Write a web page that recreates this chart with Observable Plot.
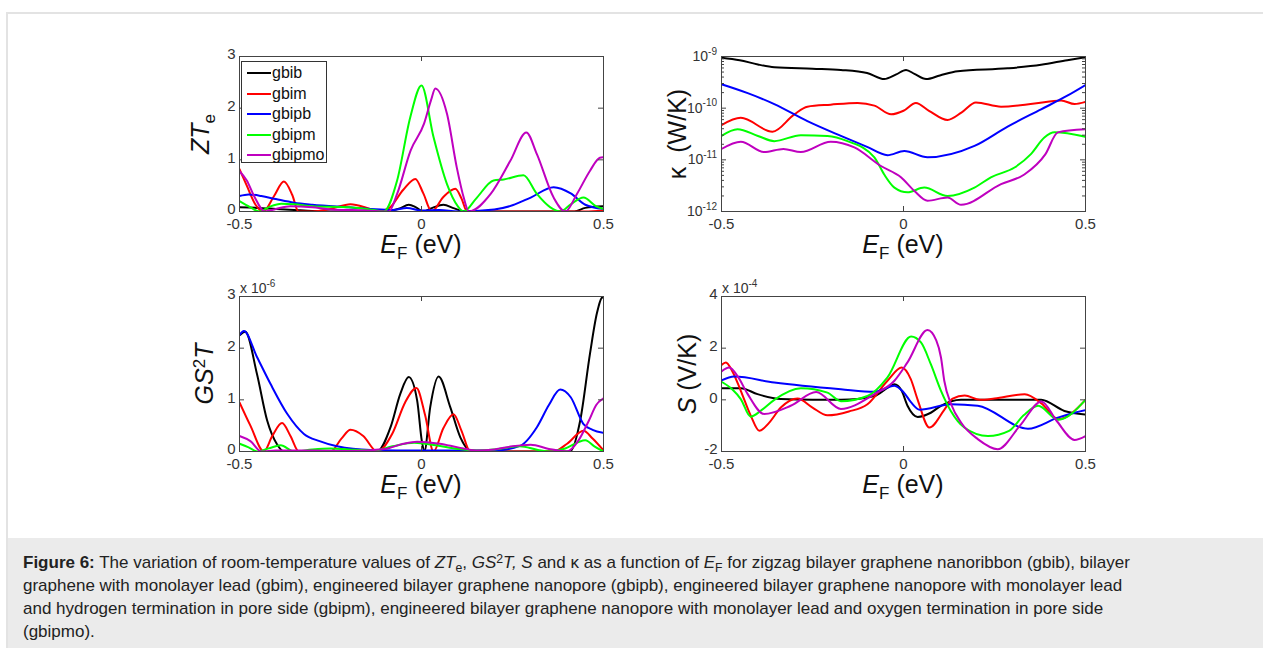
<!DOCTYPE html>
<html><head><meta charset="utf-8">
<script src="https://cdn.jsdelivr.net/npm/d3@7"></script>
<script src="https://cdn.jsdelivr.net/npm/@observablehq/plot@0.6"></script>
<style>
html,body{margin:0;padding:0;background:#fff;}
body{width:1263px;height:648px;overflow:hidden;position:relative;font-family:Arial,"Liberation Sans",sans-serif;}
#border{position:absolute;left:6px;top:12px;width:1300px;height:700px;border:2px solid #e3e3e3;box-sizing:border-box;}
#capbox{position:absolute;left:8px;top:538px;width:1300px;height:120px;background:#ebebeb;}
#caption{position:absolute;left:23px;top:551px;width:1112px;font-size:17px;line-height:23px;color:#222;}
#caption div{white-space:nowrap;height:23px;}
#caption .sb{font-size:0.72em;position:relative;top:0.3em;}
#caption .sp{font-size:0.72em;position:relative;top:-0.45em;}
.panel{position:absolute;}
.xl{position:absolute;font-size:25px;line-height:25px;color:#111;white-space:nowrap;transform:translateX(-50%);}
.yl{position:absolute;font-size:25px;line-height:25px;color:#111;white-space:nowrap;transform:translate(-50%,-50%) rotate(-90deg);}
.xl .sb,.yl .sb{font-size:0.68em;position:relative;top:0.35em;}
.yl .sp{font-size:0.68em;position:relative;top:-0.5em;}
.mult{position:absolute;font-size:14px;line-height:14px;color:#333;white-space:nowrap;}
.mult .sp{font-size:10px;position:relative;top:-0.6em;}
.klab{position:absolute;font-size:14px;line-height:14px;color:#333;white-space:nowrap;transform:translate(-100%,-50%);}
.klab .sp{font-size:10px;position:relative;top:-0.65em;}
#legend{position:absolute;left:241px;top:61px;width:86px;height:102px;border:1px solid #333;background:#fff;box-sizing:border-box;}
.lrow{position:absolute;left:0;height:20px;font-size:16px;line-height:20px;color:#111;}
.lrow span.sw{position:absolute;left:5px;top:9px;width:24px;height:2px;}
.lrow span.tx{position:absolute;left:30px;top:0;}
</style></head><body>
<div id="border"></div>
<div id="capbox"></div>
<div id="caption">
<div><b>Figure 6:</b> The variation of room-temperature values of <i>ZT</i><span class="sb">e</span>, <i>GS</i><span class="sp">2</span><i>T, S</i> and κ as a function of <i>E</i><span class="sb">F</span> for zigzag bilayer graphene nanoribbon (gbib), bilayer</div>
<div>graphene with monolayer lead (gbim), engineered bilayer graphene nanopore (gbipb), engineered bilayer graphene nanopore with monolayer lead</div>
<div>and hydrogen termination in pore side (gbipm), engineered bilayer graphene nanopore with monolayer lead and oxygen termination in pore side</div>
<div>(gbipmo).</div>
</div>
<script>
// ---------- shared ----------
const E_TICKS = [-0.5, 0, 0.5];
const SERIES = ["gbib", "gbim", "gbipb", "gbipm", "gbipmo"];
const COLORS = ["#000000", "#ff0000", "#0000ff", "#00ff00", "#bf00bf"];

// ---------- ZT_e ----------
const ZT_TICKS = [0, 1, 2, 3];
const zt_gbib = [[-0.5,0.08],[-0.45,0.07],[-0.4,0.05],[-0.35,0.03],[-0.3,0.01],[-0.2,0.0],[-0.1,0.0],[-0.06,0.06],[-0.035,0.13],[-0.015,0.08],[0.005,0.0],[0.03,0.07],[0.06,0.13],[0.09,0.06],[0.12,0.0],[0.42,0.0],[0.45,0.07],[0.5,0.1]];
const zt_gbim = [[-0.5,0.82],[-0.48,0.5],[-0.455,0.12],[-0.435,0.0],[-0.405,0.3],[-0.378,0.58],[-0.355,0.32],[-0.338,0.0],[-0.3,0.0],[-0.25,0.05],[-0.195,0.14],[-0.15,0.07],[-0.12,0.0],[-0.09,0.06],[-0.05,0.42],[-0.017,0.63],[0.005,0.35],[0.028,0.0],[0.06,0.28],[0.093,0.44],[0.11,0.25],[0.125,0.0],[0.3,0.0],[0.45,0.0],[0.5,0.02]];
const zt_gbipb = [[-0.5,0.3],[-0.475,0.33],[-0.44,0.3],[-0.4,0.24],[-0.35,0.17],[-0.3,0.13],[-0.2,0.08],[-0.14,0.05],[-0.08,0.03],[-0.04,0.07],[0.0,0.02],[0.05,0.03],[0.1,0.0],[0.2,0.04],[0.25,0.12],[0.3,0.27],[0.363,0.47],[0.41,0.35],[0.45,0.13],[0.5,0.05]];
const zt_gbipm = [[-0.5,0.2],[-0.47,0.08],[-0.445,0.0],[-0.415,0.1],[-0.385,0.15],[-0.35,0.14],[-0.3,0.1],[-0.2,0.08],[-0.15,0.05],[-0.104,0.0],[-0.067,0.6],[-0.031,1.82],[0.0,2.44],[0.033,1.44],[0.07,0.53],[0.1,0.1],[0.116,0.0],[0.15,0.25],[0.198,0.6],[0.226,0.62],[0.28,0.7],[0.317,0.34],[0.354,0.08],[0.381,0.0],[0.41,0.14],[0.445,0.27],[0.48,0.1],[0.5,0.05]];
const zt_gbipmo = [[-0.5,0.78],[-0.48,0.6],[-0.46,0.3],[-0.43,0.0],[-0.4,0.05],[-0.36,0.1],[-0.3,0.08],[-0.25,0.04],[-0.15,0.02],[-0.09,0.0],[-0.067,0.34],[-0.03,1.18],[0.007,1.7],[0.026,2.15],[0.038,2.38],[0.07,1.89],[0.097,0.85],[0.116,0.27],[0.13,0.0],[0.19,0.34],[0.244,0.98],[0.288,1.53],[0.317,1.11],[0.363,0.27],[0.395,0.0],[0.427,0.34],[0.463,0.79],[0.49,1.04],[0.5,1.05]];

// ---------- kappa (W/K) ----------
const K_TICKS = [1e-12, 1e-11, 1e-10, 1e-9];
const K_TICK_EXP = ["-12", "-11", "-10", "-9"];
const K_MINOR = [2e-12,3e-12,4e-12,5e-12,6e-12,7e-12,8e-12,9e-12,2e-11,3e-11,4e-11,5e-11,6e-11,7e-11,8e-11,9e-11,2e-10,3e-10,4e-10,5e-10,6e-10,7e-10,8e-10,9e-10];
const k_gbib = [[-0.5,9.5e-10],[-0.45,8.5e-10],[-0.4,7.0e-10],[-0.355,6.2e-10],[-0.25,5.8e-10],[-0.172,5.5e-10],[-0.1,4.8e-10],[-0.053,3.65e-10],[-0.02,4.5e-10],[0.007,5.5e-10],[0.03,4.6e-10],[0.062,3.65e-10],[0.1,4.3e-10],[0.149,5.2e-10],[0.286,5.9e-10],[0.378,6.9e-10],[0.45,8.5e-10],[0.5,9.7e-10]];
const k_gbim = [[-0.5,4.7e-11],[-0.447,6.5e-11],[-0.36,3.5e-11],[-0.3,7.6e-11],[-0.264,1.07e-10],[-0.2,1.17e-10],[-0.126,1.26e-10],[-0.08,1.12e-10],[-0.034,7.6e-11],[0.0,8.9e-11],[0.034,1.26e-10],[0.07,8.9e-11],[0.121,5.9e-11],[0.16,8.3e-11],[0.199,1.29e-10],[0.268,1.07e-10],[0.36,1.23e-10],[0.433,1.41e-10],[0.47,1.2e-10],[0.5,1.32e-10]];
const k_gbipb = [[-0.5,2.9e-10],[-0.428,1.95e-10],[-0.355,1.2e-10],[-0.264,5.6e-11],[-0.172,2.9e-11],[-0.1,1.78e-11],[-0.044,1.23e-11],[0.002,1.48e-11],[0.066,1.12e-11],[0.195,1.86e-11],[0.286,4.4e-11],[0.378,9.5e-11],[0.45,1.74e-10],[0.5,2.8e-10]];
const k_gbipm = [[-0.5,2.9e-11],[-0.456,3.9e-11],[-0.4,2.9e-11],[-0.355,2.3e-11],[-0.282,3.0e-11],[-0.209,2.9e-11],[-0.154,2.3e-11],[-0.08,1.12e-11],[-0.053,5.2e-12],[-0.025,2.9e-12],[0.011,2.35e-12],[0.057,2.9e-12],[0.121,2.0e-12],[0.195,2.9e-12],[0.24,4.6e-12],[0.305,7.1e-12],[0.35,1.29e-11],[0.387,2.7e-11],[0.415,3.4e-11],[0.5,2.8e-11]];
const k_gbipmo = [[-0.5,1.62e-11],[-0.447,2.24e-11],[-0.383,1.41e-11],[-0.33,1.62e-11],[-0.282,1.41e-11],[-0.2,2.24e-11],[-0.135,1.74e-11],[-0.062,7.6e-12],[-0.007,4.6e-12],[0.03,2.5e-12],[0.066,1.62e-12],[0.121,1.86e-12],[0.158,1.35e-12],[0.268,3.4e-12],[0.332,5.2e-12],[0.39,1.29e-11],[0.424,3.4e-11],[0.5,3.9e-11]];

// ---------- GS^2T (x 1e-6) ----------
const G_TICKS = [0, 1, 2, 3];
const g_gbib = [[-0.5,2.25],[-0.484,2.32],[-0.452,1.5],[-0.424,0.6],[-0.397,0.14],[-0.378,0.0],[-0.122,0.0],[-0.085,0.47],[-0.058,1.12],[-0.035,1.44],[-0.012,0.99],[0.001,0.2],[0.008,0.0],[0.024,0.86],[0.047,1.45],[0.079,0.86],[0.107,0.27],[0.139,0.0],[0.408,0.0],[0.436,0.6],[0.463,1.9],[0.482,2.68],[0.498,2.99],[0.5,2.97]];
const g_gbim = [[-0.5,0.95],[-0.47,0.5],[-0.433,0.0],[-0.41,0.3],[-0.383,0.55],[-0.36,0.3],[-0.337,0.0],[-0.25,0.0],[-0.22,0.25],[-0.195,0.42],[-0.16,0.3],[-0.122,0.0],[-0.08,0.35],[-0.045,0.95],[-0.014,1.23],[0.01,0.7],[0.033,0.0],[0.06,0.45],[0.088,0.72],[0.11,0.4],[0.134,0.0],[0.363,0.0],[0.4,0.15],[0.445,0.4],[0.47,0.25],[0.5,0.02]];
const g_gbipb = [[-0.5,2.25],[-0.488,2.33],[-0.452,1.83],[-0.415,1.31],[-0.369,0.73],[-0.323,0.34],[-0.28,0.2],[-0.232,0.1],[-0.14,0.03],[0.0,0.02],[0.2,0.02],[0.271,0.11],[0.317,0.47],[0.35,0.9],[0.381,1.2],[0.41,1.05],[0.445,0.53],[0.47,0.42],[0.5,0.36]];
const g_gbipm = [[-0.5,0.15],[-0.475,0.08],[-0.45,0.0],[-0.42,0.06],[-0.387,0.12],[-0.35,0.0],[-0.3,0.04],[-0.25,0.06],[-0.2,0.04],[-0.13,0.02],[-0.08,0.1],[-0.02,0.17],[0.04,0.12],[0.1,0.05],[0.15,0.02],[0.2,0.04],[0.27,0.1],[0.32,0.03],[0.35,0.0],[0.39,0.05],[0.45,0.22],[0.475,0.1],[0.5,0.0]];
const g_gbipmo = [[-0.5,0.3],[-0.47,0.2],[-0.44,0.0],[-0.4,0.02],[-0.3,0.02],[-0.2,0.01],[-0.1,0.05],[-0.05,0.15],[-0.012,0.19],[0.05,0.15],[0.1,0.08],[0.15,0.02],[0.2,0.04],[0.25,0.1],[0.3,0.13],[0.35,0.05],[0.4,0.0],[0.43,0.2],[0.46,0.6],[0.48,0.9],[0.5,1.03]];

// ---------- S (V/K, x 1e-4) ----------
const S_TICKS = [-2, 0, 2, 4];
const s_gbib = [[-0.5,0.45],[-0.447,0.45],[-0.401,0.22],[-0.337,0.03],[-0.25,0.0],[-0.172,0.0],[-0.08,0.15],[-0.04,0.5],[-0.025,0.6],[-0.005,0.35],[0.011,-0.23],[0.039,-0.66],[0.075,-0.5],[0.103,-0.23],[0.158,0.0],[0.378,0.0],[0.442,-0.43],[0.5,-0.57]];
const s_gbim = [[-0.5,1.35],[-0.488,1.45],[-0.47,1.1],[-0.447,0.35],[-0.42,-0.6],[-0.396,-1.2],[-0.37,-0.9],[-0.337,-0.3],[-0.291,0.05],[-0.25,-0.3],[-0.209,-0.6],[-0.15,-0.45],[-0.099,-0.17],[-0.044,0.74],[-0.005,1.25],[0.02,0.8],[0.039,0.0],[0.071,-1.07],[0.112,-0.39],[0.135,0.05],[0.168,0.17],[0.21,0.0],[0.25,0.05],[0.333,0.22],[0.38,-0.15],[0.425,-0.75],[0.5,0.0]];
const s_gbipb = [[-0.5,0.75],[-0.465,0.9],[-0.355,0.67],[-0.172,0.41],[-0.08,0.31],[-0.025,0.55],[0.0,0.3],[0.021,-0.1],[0.044,-0.38],[0.131,-0.17],[0.204,-0.23],[0.342,-1.12],[0.424,-0.69],[0.47,-0.5],[0.5,-0.4]];
const s_gbipm = [[-0.5,0.7],[-0.47,0.4],[-0.447,0.03],[-0.42,-0.65],[-0.39,-0.4],[-0.355,0.0],[-0.282,0.45],[-0.209,0.28],[-0.172,-0.05],[-0.099,0.15],[-0.044,0.87],[0.021,2.45],[0.048,2.22],[0.075,1.38],[0.103,0.35],[0.13,-0.43],[0.167,-1.07],[0.232,-1.4],[0.29,-1.2],[0.33,-0.6],[0.37,-0.23],[0.425,-0.77],[0.5,0.0]];
const s_gbipmo = [[-0.5,1.1],[-0.479,1.25],[-0.455,0.9],[-0.428,0.22],[-0.383,-0.55],[-0.31,-0.23],[-0.24,0.3],[-0.172,-0.35],[-0.08,0.22],[-0.025,0.74],[0.011,1.45],[0.066,2.7],[0.09,2.3],[0.103,1.64],[0.112,0.74],[0.131,-0.17],[0.158,-0.88],[0.204,-1.52],[0.259,-1.91],[0.32,-1.0],[0.379,-0.06],[0.42,-0.8],[0.47,-1.55],[0.5,-1.4]];

// ---------- drawing ----------
const FW = 364, FH = 155, ML = 60, MR = 20, MT = 20, MB = 30;
const AXC = "#444";

function panel(cfg) {
  const marks = [];
  cfg.series.forEach((s, i) => marks.push(Plot.line(s, {
    x: d => d[0], y: d => d[1], stroke: COLORS[i], strokeWidth: 2,
    curve: "monotone-x", clip: true
  })));
  marks.push(Plot.frame({stroke: AXC, strokeWidth: 1}));
  const tl = 5;
  marks.push(Plot.tickX(E_TICKS, {x: d => d, insetTop: FH - tl, stroke: AXC}));
  marks.push(Plot.tickX(E_TICKS, {x: d => d, insetBottom: FH - tl, stroke: AXC}));
  marks.push(Plot.tickY(cfg.yTicks, {y: d => d, insetRight: FW - tl, stroke: AXC}));
  marks.push(Plot.tickY(cfg.yTicks, {y: d => d, insetLeft: FW - tl, stroke: AXC}));
  if (cfg.minor) {
    marks.push(Plot.tickY(cfg.minor, {y: d => d, insetRight: FW - 3, stroke: AXC}));
    marks.push(Plot.tickY(cfg.minor, {y: d => d, insetLeft: FW - 3, stroke: AXC}));
  }
  marks.push(Plot.axisX(E_TICKS, {tickSize: 0, tickPadding: 7, tickFormat: d => String(d), color: "#333", label: null}));
  if (cfg.fmt) marks.push(Plot.axisY(cfg.yTicks, {tickSize: 0, tickPadding: 4, dy: -2, tickFormat: cfg.fmt, color: "#333", label: null}));
  const svg = Plot.plot({
    width: FW + ML + MR, height: FH + MT + MB,
    marginLeft: ML, marginRight: MR, marginTop: MT, marginBottom: MB,
    x: {domain: [-0.5, 0.5]},
    y: {type: cfg.type || "linear", domain: cfg.domain, axis: null},
    style: {fontFamily: "Arial, 'Liberation Sans', sans-serif", fontSize: "15px", background: "transparent", overflow: "visible"},
    marks
  });
  const div = document.createElement("div");
  div.className = "panel";
  div.style.left = (cfg.left - ML) + "px";
  div.style.top = (cfg.top - MT) + "px";
  div.appendChild(svg);
  document.body.appendChild(div);
  return svg;
}

function addHTML(cls, html, left, top) {
  const d = document.createElement("div");
  d.className = cls; d.innerHTML = html;
  d.style.left = left + "px"; d.style.top = top + "px";
  document.body.appendChild(d);
  return d;
}

const P = {tl: [239, 56], tr: [721, 56], bl: [239, 296], br: [721, 296]};

panel({left: P.tl[0], top: P.tl[1], series: [zt_gbib, zt_gbim, zt_gbipb, zt_gbipm, zt_gbipmo], yTicks: ZT_TICKS, domain: [0, 3], fmt: d => String(d)});
const kSvg = panel({left: P.tr[0], top: P.tr[1], series: [k_gbib, k_gbim, k_gbipb, k_gbipm, k_gbipmo], yTicks: K_TICKS, minor: K_MINOR, type: "log", domain: [1e-12, 1e-9], fmt: null});
panel({left: P.bl[0], top: P.bl[1], series: [g_gbib, g_gbim, g_gbipb, g_gbipm, g_gbipmo], yTicks: G_TICKS, domain: [0, 3], fmt: d => String(d)});
panel({left: P.br[0], top: P.br[1], series: [s_gbib, s_gbim, s_gbipb, s_gbipm, s_gbipmo], yTicks: S_TICKS, domain: [-2, 4], fmt: d => String(d)});

// kappa tick labels with real superscripts, placed through the plot's y scale
const ky = kSvg.scale("y");
K_TICKS.forEach((v, i) => {
  addHTML("klab", `10<span class="sp">${K_TICK_EXP[i]}</span>`, P.tr[0] - 4, P.tr[1] - MT + ky.apply(v) + 1);
});

// axis labels
for (const k of ["tl", "tr", "bl", "br"]) {
  addHTML("xl", "<i>E</i><span class=\"sb\">F</span> (eV)", P[k][0] + FW / 2, P[k][1] + FH + 21);
}
addHTML("yl", "<i>ZT</i><span class=\"sb\">e</span>", 202, P.tl[1] + FH / 2);
addHTML("yl", "κ&nbsp;&nbsp;(W/K)", 677, P.tr[1] + FH / 2);
addHTML("yl", "<i>GS</i><span class=\"sp\">2</span><i>T</i>", 206, P.bl[1] + FH / 2);
addHTML("yl", "<i>S</i> (V/K)", 687, P.br[1] + FH / 2);
addHTML("mult", "x 10<span class=\"sp\">-6</span>", 240, 281);
addHTML("mult", "x 10<span class=\"sp\">-4</span>", 722, 281);

// legend
const lg = document.createElement("div");
lg.id = "legend";
SERIES.forEach((name, i) => {
  const r = document.createElement("div");
  r.className = "lrow";
  r.style.top = (1 + i * 20.5) + "px";
  r.innerHTML = `<span class="sw" style="background:${COLORS[i]}"></span><span class="tx">${name}</span>`;
  lg.appendChild(r);
});
document.body.appendChild(lg);
</script>
</body></html>
